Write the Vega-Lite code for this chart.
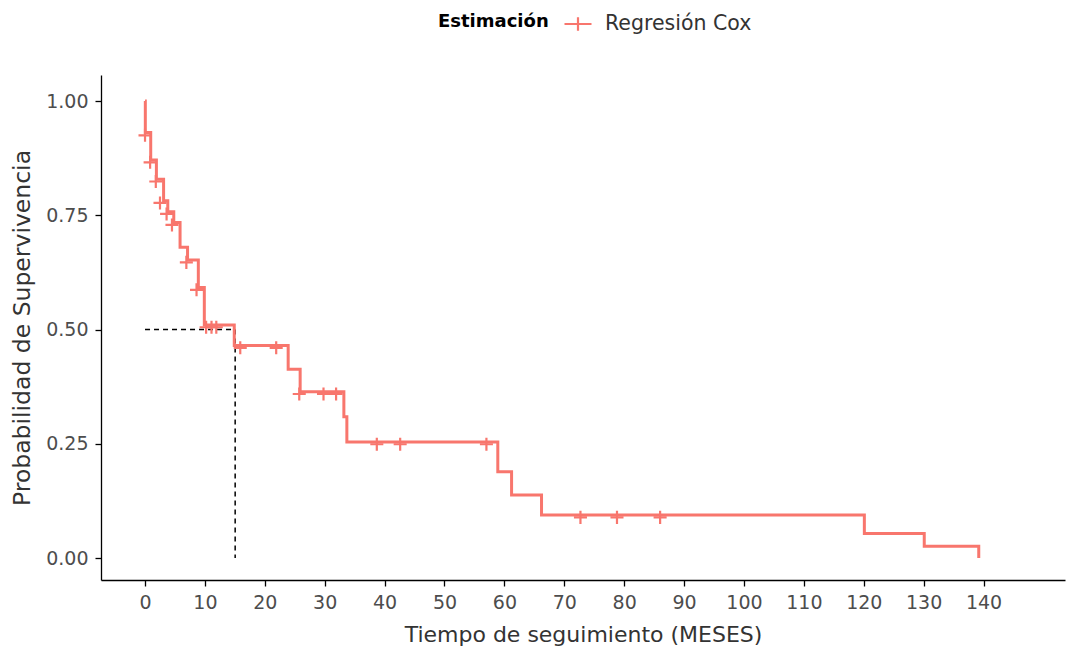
{
  "$schema": "https://vega.github.io/schema/vega-lite/v6.json",
  "width": 964,
  "height": 505,
  "autosize": "none",
  "padding": {"left": 101, "top": 75, "right": 13, "bottom": 67},
  "background": "white",
  "config": {
    "view": {"stroke": null},
    "font": "DejaVu Sans",
    "axis": {
      "grid": false,
      "domainColor": "black",
      "domainWidth": 1.3,
      "tickColor": "black",
      "tickWidth": 1.3,
      "tickSize": 6,
      "labelFont": "DejaVu Sans",
      "labelFontSize": 19,
      "labelColor": "#4D4D4D",
      "labelPadding": 7,
      "titleFont": "DejaVu Sans",
      "titleFontWeight": "normal",
      "titleColor": "#333333"
    }
  },
  "datasets": {
    "curva": [
      {"t": 0, "s": 1.0},
      {"t": 0.05, "s": 0.931},
      {"t": 0.95, "s": 0.871},
      {"t": 1.9, "s": 0.829},
      {"t": 3.1, "s": 0.782},
      {"t": 3.8, "s": 0.758},
      {"t": 4.8, "s": 0.734},
      {"t": 5.85, "s": 0.68},
      {"t": 7.1, "s": 0.652},
      {"t": 8.9, "s": 0.592},
      {"t": 9.9, "s": 0.51},
      {"t": 14.9, "s": 0.465},
      {"t": 23.9, "s": 0.413},
      {"t": 25.9, "s": 0.364},
      {"t": 33.2, "s": 0.309},
      {"t": 33.7, "s": 0.254},
      {"t": 58.9, "s": 0.189},
      {"t": 61.2, "s": 0.138},
      {"t": 66.2, "s": 0.094},
      {"t": 120.1, "s": 0.054},
      {"t": 130.1, "s": 0.026},
      {"t": 139.2, "s": 0.0}
    ],
    "censura": [
      {"t": 0, "s": 0.925},
      {"t": 0.85, "s": 0.866},
      {"t": 1.8, "s": 0.824},
      {"t": 2.5, "s": 0.777},
      {"t": 3.6, "s": 0.753},
      {"t": 4.5, "s": 0.729},
      {"t": 6.9, "s": 0.647},
      {"t": 8.6, "s": 0.587},
      {"t": 10.2, "s": 0.505},
      {"t": 11.1, "s": 0.505},
      {"t": 11.9, "s": 0.505},
      {"t": 15.9, "s": 0.46},
      {"t": 21.9, "s": 0.46},
      {"t": 25.75, "s": 0.359},
      {"t": 29.8, "s": 0.359},
      {"t": 31.9, "s": 0.359},
      {"t": 38.7, "s": 0.249},
      {"t": 42.6, "s": 0.249},
      {"t": 57.0, "s": 0.249},
      {"t": 72.7, "s": 0.089},
      {"t": 78.8, "s": 0.089},
      {"t": 86.0, "s": 0.089}
    ],
    "mediana": [
      {"x1": 0, "x2": 15.05, "y1": 0.5, "y2": 0.5},
      {"x1": 15.05, "x2": 15.05, "y1": 0.5, "y2": 0}
    ]
  },
  "layer": [
    {
      "data": {"name": "mediana"},
      "mark": {"type": "rule", "color": "black", "strokeDash": [5, 4], "strokeWidth": 1.5},
      "encoding": {
        "x": {"field": "x1", "type": "quantitative", "scale": {"domain": [-7.35, 153.6], "nice": false, "zero": false}},
        "x2": {"field": "x2"},
        "y": {"field": "y1", "type": "quantitative", "scale": {"domain": [-0.048, 1.057], "nice": false, "zero": false}},
        "y2": {"field": "y2"}
      }
    },
    {
      "data": {"name": "curva"},
      "mark": {"type": "line", "interpolate": "step-after", "color": "#F8766D", "strokeWidth": 3},
      "encoding": {
        "x": {
          "field": "t",
          "type": "quantitative",
          "title": "Tiempo de seguimiento (MESES)",
          "axis": {"values": [0, 10, 20, 30, 40, 50, 60, 70, 80, 90, 100, 110, 120, 130, 140], "titlePadding": 12, "titleFontSize": 22}
        },
        "y": {
          "field": "s",
          "type": "quantitative",
          "title": "Probabilidad de Supervivencia",
          "axis": {"values": [0, 0.25, 0.5, 0.75, 1], "format": ".2f", "titlePadding": 11, "titleFontSize": 23.5}
        }
      }
    },
    {
      "data": {"name": "censura"},
      "mark": {"type": "point", "shape": "M-1,0H1M0,-1V1", "filled": false, "strokeWidth": 2.2, "size": 170, "opacity": 1},
      "encoding": {
        "x": {"field": "t", "type": "quantitative"},
        "y": {"field": "s", "type": "quantitative"},
        "color": {
          "datum": "Regresión Cox",
          "type": "nominal",
          "scale": {"range": ["#F8766D"]},
          "legend": {
            "title": "Estimación",
            "orient": "none",
            "legendX": 337,
            "legendY": -66,
            "direction": "horizontal",
            "titleOrient": "left",
            "titleBaseline": "middle",
            "titleFont": "DejaVu Sans",
            "titleFontSize": 18,
            "titleFontWeight": "bold",
            "titleColor": "black",
            "titlePadding": 14,
            "labelFont": "DejaVu Sans",
            "labelFontSize": 20.5,
            "labelColor": "#333333",
            "labelOffset": 12,
            "symbolType": "M-1,0H1M0,-0.5V0.5",
            "symbolSize": 729,
            "symbolStrokeWidth": 2.2,
            "symbolStrokeColor": "#F8766D",
            "symbolFillColor": "transparent"
          }
        }
      }
    }
  ]
}
